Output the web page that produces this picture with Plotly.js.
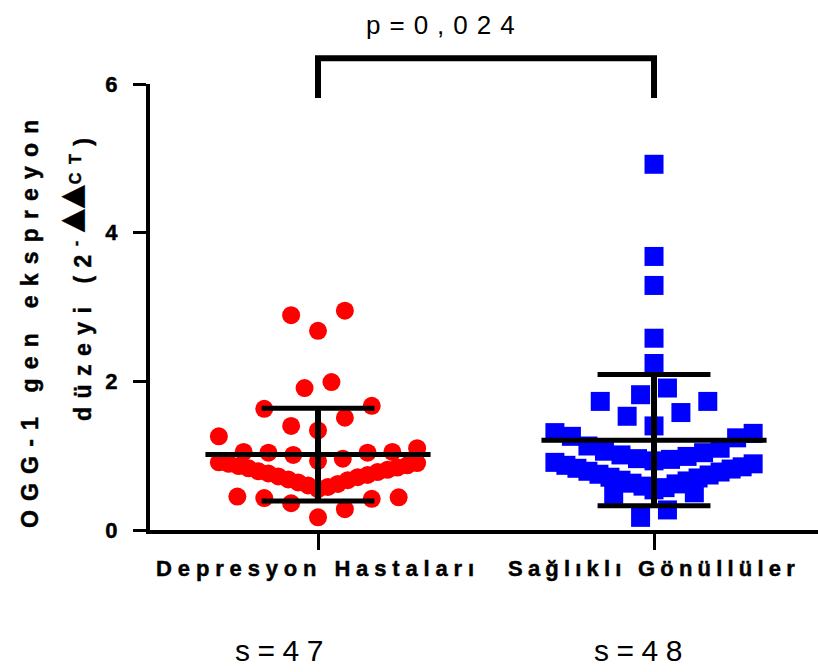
<!DOCTYPE html>
<html><head><meta charset="utf-8">
<script src="https://cdn.plot.ly/plotly-3.0.1.min.js"></script>
<style>
html,body{margin:0;padding:0;background:#fff}
.xtick text, .ytick text, .annotation[data-index="3"] text, .annotation[data-index="4"] text { stroke:#000; stroke-width:0.45px; }
</style>
</head><body>
<div id="chart" style="width:818px;height:672px"></div>
<script>
// ---- data ----
const groups = ['Depresyon Hastaları', 'Sağlıklı Gönüllüler'];
const groupCounts = ['s=47', 's=48'];
const pValueLabel = 'p=0,024';
const yTitleLine1 = 'OGG-1 gen ekspreyon';
const yTitleLine2 = 'düzeyi (2';
const yTitleSup = ['-', '▲▲', 'CT'];
const yTickVals = [0, 2, 4, 6];

const depresyonValues = [
  0.17, 0.28, 0.36, 0.42, 0.43, 0.44, 0.45,
  0.55, 0.58, 0.60, 0.62, 0.64, 0.67, 0.68, 0.71, 0.72, 0.74, 0.76,
  0.78, 0.79, 0.81, 0.83, 0.84, 0.86, 0.87, 0.89, 0.90, 0.91,
  0.93, 0.96, 1.01, 1.04, 1.04, 1.05, 1.05, 1.10, 1.26,
  1.34, 1.40, 1.51, 1.63, 1.67,
  1.91, 1.99,
  2.68, 2.89, 2.95
];
const saglikliValues = [
  0.17, 0.27, 0.48, 0.50,
  0.54, 0.57, 0.59, 0.62, 0.63, 0.66, 0.67, 0.70, 0.71, 0.74, 0.75,
  0.78, 0.79, 0.82, 0.83, 0.85, 0.87, 0.89, 0.91,
  0.93, 0.95, 0.96, 0.99, 1.01, 1.04, 1.06, 1.10, 1.13, 1.24, 1.26, 1.30, 1.31,
  1.40, 1.53, 1.58, 1.73, 1.73,
  1.82, 1.91,
  2.24, 2.58, 3.29, 3.68, 4.92
];

// ---- helpers ----
const FONT = 'Liberation Sans, Arial, sans-serif';
const Y_MIN = 0, Y_MAX = 6;
// column scatter layout (binned, points spread side by side, lowest in the middle)
const BIN = 0.41, BIN0 = 0.10, STEP = 0.08, SPAN = 0.59;
function columnScatter(values, center) {
  const bins = {};
  values.forEach(v => {
    const k = Math.floor((v - BIN0) / BIN + 1e-9);
    (bins[k] = bins[k] || []).push(v);
  });
  const xs = [], ys = [];
  Object.keys(bins).forEach(k => {
    const b = bins[k].slice().sort((a, c) => a - c);
    const n = b.length;
    const step = n > 1 ? Math.min(STEP, SPAN / (n - 1)) : 0;
    const rightFirst = n >= 7;
    b.forEach((v, i) => {
      let slot;
      if (n % 2) {
        const m = Math.ceil(i / 2);
        slot = i === 0 ? 0 : (((i % 2) === 1) === rightFirst ? m : -m);
      } else {
        const m = Math.floor(i / 2) + 0.5;
        slot = (i % 2) === 1 ? m : -m;
      }
      xs.push(center + slot * step);
      ys.push(v);
    });
  });
  return { xs, ys };
}
function mean(a) { return a.reduce((s, v) => s + v, 0) / a.length; }
function sd(a) { const m = mean(a); return Math.sqrt(a.reduce((s, v) => s + (v - m) * (v - m), 0) / (a.length - 1)); }
const yPaper = v => (v - Y_MIN) / (Y_MAX - Y_MIN);

const dep = columnScatter(depresyonValues, 0);
const sag = columnScatter(saglikliValues, 1);

const traces = [
  { type: 'scatter', mode: 'markers', x: dep.xs, y: dep.ys, cliponaxis: false,
    marker: { symbol: 'circle', size: 18, color: '#ff0000', line: { width: 0 } }, hoverinfo: 'y' },
  { type: 'scatter', mode: 'markers', x: sag.xs, y: sag.ys, cliponaxis: false,
    marker: { symbol: 'square', size: 19, color: '#0000ff', line: { width: 0 } }, hoverinfo: 'y' }
];

const shapes = [];
const MEAN_HALF = 0.335, CAP_HALF = 0.168;
[depresyonValues, saglikliValues].forEach((vals, i) => {
  const m = mean(vals), s = sd(vals);
  const ln = { color: '#000', width: 5 };
  shapes.push({ type: 'line', xref: 'x', yref: 'y', x0: i - MEAN_HALF, x1: i + MEAN_HALF, y0: m, y1: m, line: ln });
  shapes.push({ type: 'line', xref: 'x', yref: 'y', x0: i, x1: i, y0: m - s, y1: m + s, line: { color: '#000', width: 6 } });
  shapes.push({ type: 'line', xref: 'x', yref: 'y', x0: i - CAP_HALF, x1: i + CAP_HALF, y0: m + s, y1: m + s, line: ln });
  shapes.push({ type: 'line', xref: 'x', yref: 'y', x0: i - CAP_HALF, x1: i + CAP_HALF, y0: m - s, y1: m - s, line: ln });
});
// significance bracket
const brTop = yPaper(6.345), brBot = yPaper(5.81);
shapes.push({ type: 'path', xref: 'x', yref: 'paper',
  path: `M0,${brBot} L0,${brTop} L1,${brTop} L1,${brBot}`, line: { color: '#000', width: 6 } });

const sp = (t, s) => `<span style="letter-spacing:${s}px">${t}</span>`;
const triStyle = 'font-size:30px;font-family:DejaVu Sans;letter-spacing:1px';

const annotations = [
  { xref: 'paper', yref: 'paper', x: 0.4416, y: 1.132, xanchor: 'center', yanchor: 'middle', showarrow: false,
    text: sp(pValueLabel, 9), font: { family: FONT, size: 26, color: '#000' } },
  { xref: 'paper', yref: 'paper', x: 0.199, y: -0.271, xanchor: 'center', yanchor: 'middle', showarrow: false,
    text: sp(groupCounts[0], 7.5), font: { family: FONT, size: 30, color: '#000' } },
  { xref: 'paper', yref: 'paper', x: 0.737, y: -0.271, xanchor: 'center', yanchor: 'middle', showarrow: false,
    text: sp(groupCounts[1], 7.5), font: { family: FONT, size: 30, color: '#000' } },
  { xref: 'paper', yref: 'paper', x: -0.1804, y: 0.474, xanchor: 'center', yanchor: 'middle', showarrow: false, textangle: -90,
    text: sp(yTitleLine1, 9.2), font: { family: FONT, size: 23, color: '#000', weight: 'bold' } },
  { xref: 'paper', yref: 'paper', x: -0.0778, y: 0.5705, xanchor: 'right', yanchor: 'middle', showarrow: false, textangle: -90,
    text: sp(yTitleLine2 + '<sup>' + yTitleSup[0] + '<span style="' + triStyle + '">' + yTitleSup[1] + '</span>' + yTitleSup[2] + '</sup>)', 8.5),
    font: { family: FONT, size: 23, color: '#000', weight: 'bold' } }
];

const layout = {
  width: 818, height: 672,
  margin: { l: 150, r: 0, t: 84, b: 142, pad: 0 },
  paper_bgcolor: '#fff', plot_bgcolor: '#fff',
  showlegend: false,
  font: { family: FONT, color: '#000' },
  xaxis: {
    range: [-0.5, 1.488], tickmode: 'array', tickvals: [0, 1],
    ticktext: [sp(groups[0], 5.85), sp(groups[1], 5.2)],
    showline: true, linewidth: 4, linecolor: '#000', ticks: 'outside', ticklen: 16, tickwidth: 3, tickcolor: '#000',
    showgrid: false, zeroline: false, fixedrange: true,
    tickfont: { family: FONT, size: 22, color: '#000', weight: 'bold' }
  },
  yaxis: {
    range: [Y_MIN, Y_MAX], tickmode: 'array', tickvals: yTickVals,
    showline: true, linewidth: 4, linecolor: '#000', ticks: 'outside', ticklen: 13, tickwidth: 3, tickcolor: '#000',
    showgrid: false, zeroline: false, fixedrange: true, ticklabelstandoff: 11,
    tickfont: { family: FONT, size: 22, color: '#000', weight: 'bold' }
  },
  shapes: shapes,
  annotations: annotations
};

Plotly.newPlot('chart', traces, layout, { displayModeBar: false, staticPlot: true });
</script>
</body></html>
